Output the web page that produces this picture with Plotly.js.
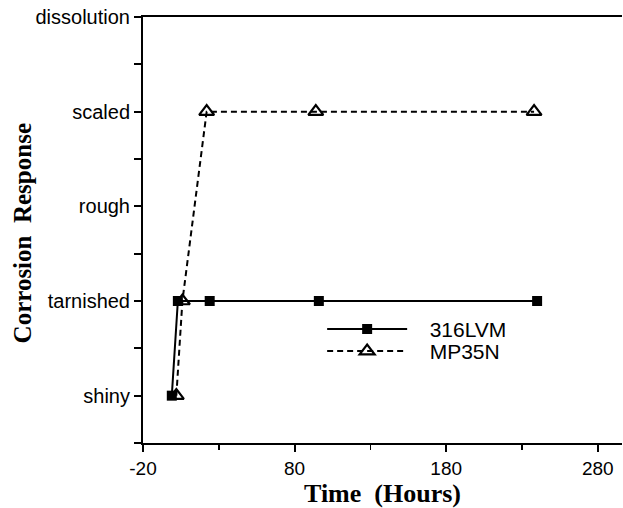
<!DOCTYPE html>
<html>
<head>
<meta charset="utf-8">
<script src="https://cdn.plot.ly/plotly-3.0.1.min.js"></script>
<style>html,body{margin:0;padding:0;background:#fff;}#chart{width:623px;height:508px;}</style>
</head>
<body>
<div id="chart"></div>
<script>
// Corrosion response levels (category order on the y axis)
const responseLevels = ["shiny", "tarnished", "rough", "scaled", "dissolution"];
const responseValues = [0, 1, 2, 3, 4];

// 316LVM series
const time316 = [-1, 3, 24, 96, 240];
const resp316 = [0, 1, 1, 1, 1];

// MP35N series
const timeMP = [2, 6, 22, 94, 238];
const respMP = [0, 1, 3, 3, 3];

const xTicks = [-20, 80, 180, 280];

const legendFont = {family: "Liberation Sans, Arial, sans-serif", size: 21, color: "#000"};

const traces = [
  {
    x: time316, y: resp316, name: "\u00a0\u00a0\u00a0316LVM", type: "scatter", mode: "lines+markers",
    line: {color: "#000", width: 2},
    marker: {symbol: "square", size: 10, color: "#000"},
    legend: "legend"
  },
  {
    x: timeMP, y: respMP, name: "\u00a0\u00a0\u00a0MP35N", type: "scatter", mode: "lines+markers",
    line: {color: "#000", width: 2, dash: "6px,4px"},
    marker: {symbol: "triangle-up-open", size: 13, color: "#000", line: {width: 2.2, color: "#000"}},
    legend: "legend2"
  }
];

const legendBase = {
  xanchor: "left", yanchor: "middle",
  bgcolor: "rgba(0,0,0,0)", borderwidth: 0,
  font: legendFont, itemwidth: 80, tracegroupgap: 0
};

const layout = {
  width: 623, height: 508,
  margin: {l: 143, r: 1, t: 17, b: 65},
  paper_bgcolor: "#fff", plot_bgcolor: "#fff",
  showlegend: true,
  legend: Object.assign({}, legendBase, {x: 0.374, y: 0.267}),
  legend2: Object.assign({}, legendBase, {x: 0.374, y: 0.215}),
  xaxis: {
    range: [-20, 296], tickmode: "array", tickvals: xTicks, ticktext: xTicks.map(String),
    ticks: "outside", ticklen: 7, tickwidth: 2, tickcolor: "#000",
    minor: {tickvals: [30, 130, 230], ticks: "outside", ticklen: 5, tickwidth: 1.5, tickcolor: "#000"},
    showline: true, linecolor: "#000", linewidth: 2, mirror: true,
    showgrid: false, zeroline: false,
    tickfont: {family: "Liberation Sans, Arial, sans-serif", size: 19, color: "#000"},
    title: {text: "Time\u00a0\u00a0(Hours)", font: {family: "Liberation Serif, Times New Roman, serif", size: 26, color: "#000", weight: "bold"}, standoff: 9}
  },
  yaxis: {
    range: [-0.5, 4], tickmode: "array", tickvals: responseValues, ticktext: responseLevels,
    ticks: "outside", ticklen: 7, tickwidth: 2, tickcolor: "#000",
    minor: {tickvals: [-0.5, 0.5, 1.5, 2.5, 3.5], ticks: "outside", ticklen: 7, tickwidth: 2, tickcolor: "#000"},
    showline: true, linecolor: "#000", linewidth: 2, mirror: false,
    showgrid: false, zeroline: false,
    tickfont: {family: "Liberation Sans, Arial, sans-serif", size: 20, color: "#000"}
  },
  annotations: [{
    text: "Corrosion\u00a0\u00a0Response", textangle: -90, showarrow: false,
    xref: "paper", yref: "paper", x: -0.2526, y: 0.492, xanchor: "center", yanchor: "middle",
    font: {family: "Liberation Serif, Times New Roman, serif", size: 25, color: "#000", weight: "bold"}
  }]
};

Plotly.newPlot("chart", traces, layout, {staticPlot: true, displayModeBar: false});
</script>
</body>
</html>
